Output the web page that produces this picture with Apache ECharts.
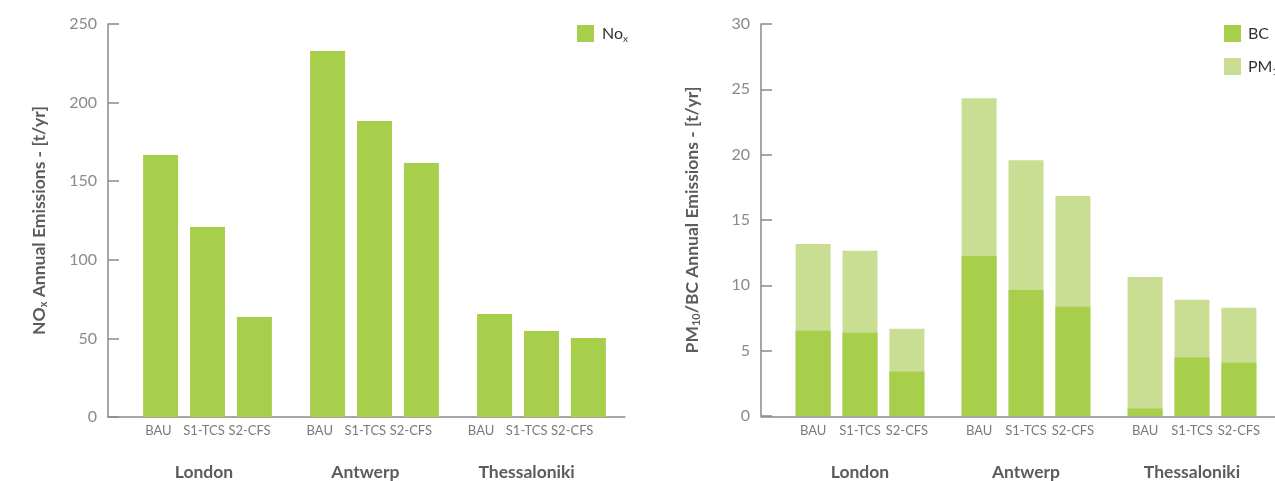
<!DOCTYPE html>
<html>
<head>
<meta charset="utf-8">
<script src="https://cdn.jsdelivr.net/npm/echarts@6/dist/echarts.min.js"></script>
<style>
html,body{margin:0;padding:0;background:#fff;}
#c{width:1275px;height:481px;}
</style>
</head>
<body>
<div id="c"></div>
<script>
// ---- data ----
var cities = ['London', 'Antwerp', 'Thessaloniki'];
var scenarios = ['BAU', 'S1-TCS', 'S2-CFS'];
// NOx annual emissions [t/yr], one array per scenario (London, Antwerp, Thessaloniki)
var noxBAU = [166.7, 232.8, 65.5];
var noxS1 = [120.9, 188.3, 54.7];
var noxS2 = [63.6, 161.6, 50.3];
// BC annual emissions [t/yr]
var bcBAU = [6.53, 12.25, 0.57];
var bcS1 = [6.37, 9.65, 4.47];
var bcS2 = [3.40, 8.36, 4.08];
// PM10 annual emissions [t/yr]
var pmBAU = [13.17, 24.31, 10.64];
var pmS1 = [12.64, 19.58, 8.89];
var pmS2 = [6.68, 16.83, 8.28];
var noxTicks = [0, 50, 100, 150, 200, 250];
var pmTicks = [0, 5, 10, 15, 20, 25, 30];

var noxData = [noxBAU, noxS1, noxS2];
var bcData = [bcBAU, bcS1, bcS2];
var pmData = [pmBAU, pmS1, pmS2];

var DARK = '#a8cf4b';
var LIGHT = '#c9de92';
var FONT = 'Lato, sans-serif';
var AXIS = '#8a8a8a';

var chart = echarts.init(document.getElementById('c'), null, {renderer: 'canvas'});

function hiddenY(max) {
  return {type: 'value', min: 0, max: max, show: false};
}
function visibleY(gi, max, interval, nameRich) {
  return {
    gridIndex: gi, type: 'value', min: 0, max: max, interval: interval,
    offset: 16,
    axisLine: {show: true, lineStyle: {color: AXIS, width: 1.5}},
    axisTick: {show: true, inside: true, length: 11, lineStyle: {color: AXIS, width: 1.5}},
    splitLine: {show: false},
    axisLabel: {color: '#8a8a8a', fontSize: 16, fontFamily: FONT, margin: 11},
    name: nameRich, nameLocation: 'middle', nameGap: 59, nameRotate: 90,
    nameTextStyle: {
      color: '#5c5c5c', fontFamily: FONT, fontWeight: 'bold', fontSize: 17.5,
      rich: {
        a: {color: '#5c5c5c', fontFamily: FONT, fontWeight: 'bold', fontSize: 17.5},
        s: {color: '#5c5c5c', fontFamily: FONT, fontWeight: 'bold', fontSize: 11, padding: [8, 0, 0, 0]}
      }
    }
  };
}

var series = [];
// left chart: NOx bars
noxData.forEach(function (arr, i) {
  series.push({
    type: 'bar', name: 'NOx', xAxisIndex: 0, yAxisIndex: 0,
    data: arr, barWidth: 35, barGap: '34%',
    itemStyle: {color: DARK}, z: 2
  });
});
// left chart: scenario labels (own layout grid, transparent bars)
noxData.forEach(function (arr, i) {
  series.push({
    type: 'bar', name: 'lbl' + i, xAxisIndex: 2, yAxisIndex: 2,
    data: arr, barWidth: 34, barGap: '34%', silent: true,
    itemStyle: {color: 'rgba(0,0,0,0)'},
    label: {show: true, position: 'bottom', distance: 8, color: '#7a7a7a',
      fontSize: 13, fontFamily: FONT, formatter: function () { return scenarios[i]; }}
  });
});
// right chart: PM10 (behind)
pmData.forEach(function (arr, i) {
  series.push({
    type: 'bar', name: 'PM10', xAxisIndex: 4, yAxisIndex: 3,
    data: arr, barWidth: 35, barGap: '34%',
    itemStyle: {color: LIGHT}, z: 2
  });
});
// right chart: BC (front)
bcData.forEach(function (arr, i) {
  series.push({
    type: 'bar', name: 'BC', xAxisIndex: 3, yAxisIndex: 3,
    data: arr, barWidth: 35, barGap: '34%',
    itemStyle: {color: DARK}, z: 3,
    label: {show: true, position: 'bottom', distance: 8, color: '#7a7a7a',
      fontSize: 13, fontFamily: FONT, formatter: function () { return scenarios[i]; }}
  });
});

var cityLabel = {color: '#5c5c5c', fontSize: 17.5, fontWeight: 'bold', fontFamily: FONT, margin: 47, interval: 0};

var option = {
  animation: false,
  backgroundColor: '#ffffff',
  grid: [
    {left: 124, top: 24, width: 501, height: 393},     // 0 left bars
    {left: 108, top: 24, width: 517, height: 393},     // 1 left axis line
    {left: 123.3, top: 24, width: 484, height: 393},   // 2 left labels
    {left: 777, top: 24, width: 501, height: 393},     // 3 right bars
    {left: 761, top: 24, width: 517, height: 393}      // 4 right axis line
  ],
  xAxis: [
    {gridIndex: 0, type: 'category', data: cities, axisLine: {show: false}, axisTick: {show: false}, axisLabel: {show: false}},
    {gridIndex: 1, type: 'value', min: 0, max: 1, axisLine: {show: true, lineStyle: {color: AXIS, width: 1.5}}, axisTick: {show: false}, axisLabel: {show: false}, splitLine: {show: false}},
    {gridIndex: 2, type: 'category', data: cities, axisLine: {show: false}, axisTick: {show: false}, axisLabel: cityLabel},
    {gridIndex: 3, type: 'category', data: cities, axisLine: {show: false}, axisTick: {show: false}, axisLabel: cityLabel},
    {gridIndex: 3, type: 'category', data: cities, show: false},
    {gridIndex: 4, type: 'value', min: 0, max: 1, axisLine: {show: true, lineStyle: {color: AXIS, width: 1.5}}, axisTick: {show: false}, axisLabel: {show: false}, splitLine: {show: false}}
  ],
  yAxis: [
    visibleY(0, noxTicks[noxTicks.length - 1], noxTicks[1] - noxTicks[0], '{a|NO}{s|x}{a| Annual Emissions - [t/yr]}'),
    Object.assign(hiddenY(1), {gridIndex: 1}),
    Object.assign(hiddenY(noxTicks[noxTicks.length - 1]), {gridIndex: 2}),
    visibleY(3, pmTicks[pmTicks.length - 1], pmTicks[1] - pmTicks[0], '{a|PM}{s|10}{a|/BC Annual Emissions - [t/yr]}'),
    Object.assign(hiddenY(1), {gridIndex: 4})
  ],
  legend: [
    {
      data: ['NOx'], left: 572, top: 20, itemWidth: 17, itemHeight: 17, icon: 'rect',
      selectedMode: false,
      formatter: function () { return '{a|No}{s|x}'; },
      textStyle: {rich: {
        a: {color: '#333333', fontSize: 16, fontFamily: FONT, padding: [0, 0, 0, 3]},
        s: {color: '#333333', fontSize: 10, fontFamily: FONT, padding: [10, 0, 0, 0]}
      }}
    },
    {
      data: ['BC', 'PM10'], left: 1219, top: 20, orient: 'vertical', itemGap: 16,
      itemWidth: 17, itemHeight: 17, icon: 'rect', selectedMode: false,
      formatter: function (n) { return n === 'BC' ? '{a|BC}' : '{a|PM}{s|10}'; },
      textStyle: {rich: {
        a: {color: '#333333', fontSize: 16, fontFamily: FONT, padding: [0, 0, 0, 2]},
        s: {color: '#333333', fontSize: 10, fontFamily: FONT, padding: [10, 0, 0, 0]}
      }}
    }
  ],
  series: series
};
chart.setOption(option);
</script>
</body>
</html>
